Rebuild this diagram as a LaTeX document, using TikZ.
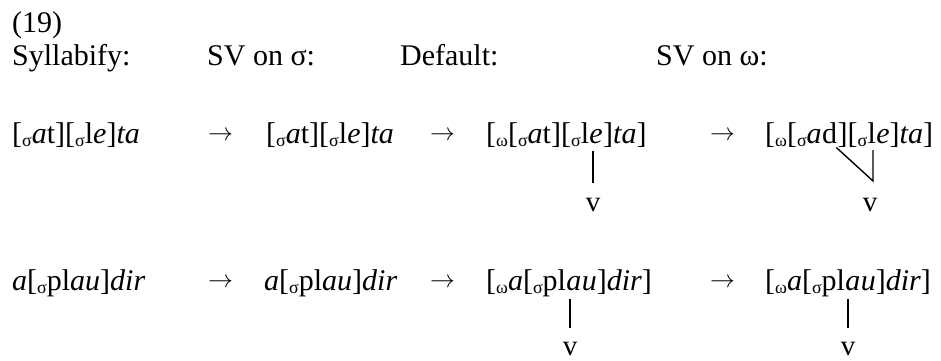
\documentclass[tikz,border=0pt]{standalone}
\usepackage{fontspec}
\setmainfont{Liberation Serif}
% small lowered prosodic-domain labels
\newcommand\ssig{\raisebox{-3.5pt}{\fontsize{18}{18}\selectfont σ}}
\newcommand\somg{\raisebox{-3.5pt}{\fontsize{18}{18}\selectfont ω}}
\newcommand\ital[1]{\textit{#1}}
\newcommand\derives{\raisebox{3pt}{$\rightarrow$}}
\begin{document}
\begin{tikzpicture}[x=1pt,y=-1pt,
  txt/.style={inner sep=0pt,anchor=base west,font=\fontsize{30}{35}\selectfont},
  seg/.style={inner sep=0pt,anchor=base west,font=\fontsize{30}{35}\selectfont},
  vnode/.style={inner sep=0pt,anchor=base,font=\fontsize{29}{34}\selectfont},
  assoc/.style={line width=1.4pt}]
\useasboundingbox (0,0) rectangle (941,360);

% headings
\node[txt] (num) at (12,32) {(19)};
\node[txt] (h1) at (12,65) {Syllabify:};
\node[txt] (h2) at (207,65) {SV on σ:};
\node[txt] (h3) at (400,65) {Default:};
\node[txt] (h4) at (656,65) {SV on ω:};

% first derivation
\node[txt] (a1) at (12,143) {[\ssig\ital{a}t][\ssig l\ital{e}]\ital{ta}};
\node[txt] (r1a) at (208,143) {\derives};
\node[txt] (a2) at (266,143) {[\ssig\ital{a}t][\ssig l\ital{e}]\ital{ta}};
\node[txt] (r1b) at (430,143) {\derives};
\node[seg] (a3p) at (486,143) {[\somg[\ssig\ital{a}t][\ssig l};
\node[seg] (a3e) at (a3p.base east) {\ital{e}};
\node[seg] (a3s) at (a3e.base east) {]\ital{ta}]};
\node[txt] (r1c) at (710,143) {\derives};
\node[seg] (a4p) at (765,143) {[\somg[\ssig\ital{a}};
\node[seg] (a4d) at (a4p.base east) {d};
\node[seg] (a4m) at (a4d.base east) {][\ssig};
\node[seg] (a4l) at (a4m.base east) {l};
\node[seg] (a4s) at (a4l.base east) {\ital{e}]\ital{ta}]};

\node[vnode] (v3) at (593,211) {v};
\node[vnode] (v4) at (870,211) {v};
\coordinate (j4) at (873,181);

\draw[assoc] (a3e.south -| v3) ++(0,7) -- ([yshift=14pt]v3.north);
\draw[assoc] ([shift={(-1,4)}]a4d.south east) -- (j4) -- ([yshift=-7pt]a4l.south -| j4);

% second derivation
\node[txt] (b1) at (12,290) {\ital{a}[\ssig pl\ital{au}]\ital{dir}};
\node[txt] (r2a) at (208,290) {\derives};
\node[txt] (b2) at (264,290) {\ital{a}[\ssig pl\ital{au}]\ital{dir}};
\node[txt] (r2b) at (430,290) {\derives};
\node[seg] (b3p) at (486,290) {[\somg\ital{a}[\ssig pl};
\node[seg] (b3a) at (b3p.base east) {\ital{a}};
\node[seg] (b3s) at (b3a.base east) {\ital{u}]\ital{dir}]};
\node[txt] (r2c) at (710,290) {\derives};
\node[seg] (b4p) at (765,290) {[\somg\ital{a}[\ssig pl};
\node[seg] (b4a) at (b4p.base east) {\ital{a}};
\node[seg] (b4s) at (b4a.base east) {\ital{u}]\ital{dir}]};

\node[vnode] (v5) at (570,355) {v};
\node[vnode] (v6) at (848,355) {v};

\draw[assoc] (b3a.south -| v5) ++(0,8) -- ([yshift=14pt]v5.north);
\draw[assoc] (b4a.south -| v6) ++(0,8) -- ([yshift=14pt]v6.north);
\end{tikzpicture}
\end{document}
